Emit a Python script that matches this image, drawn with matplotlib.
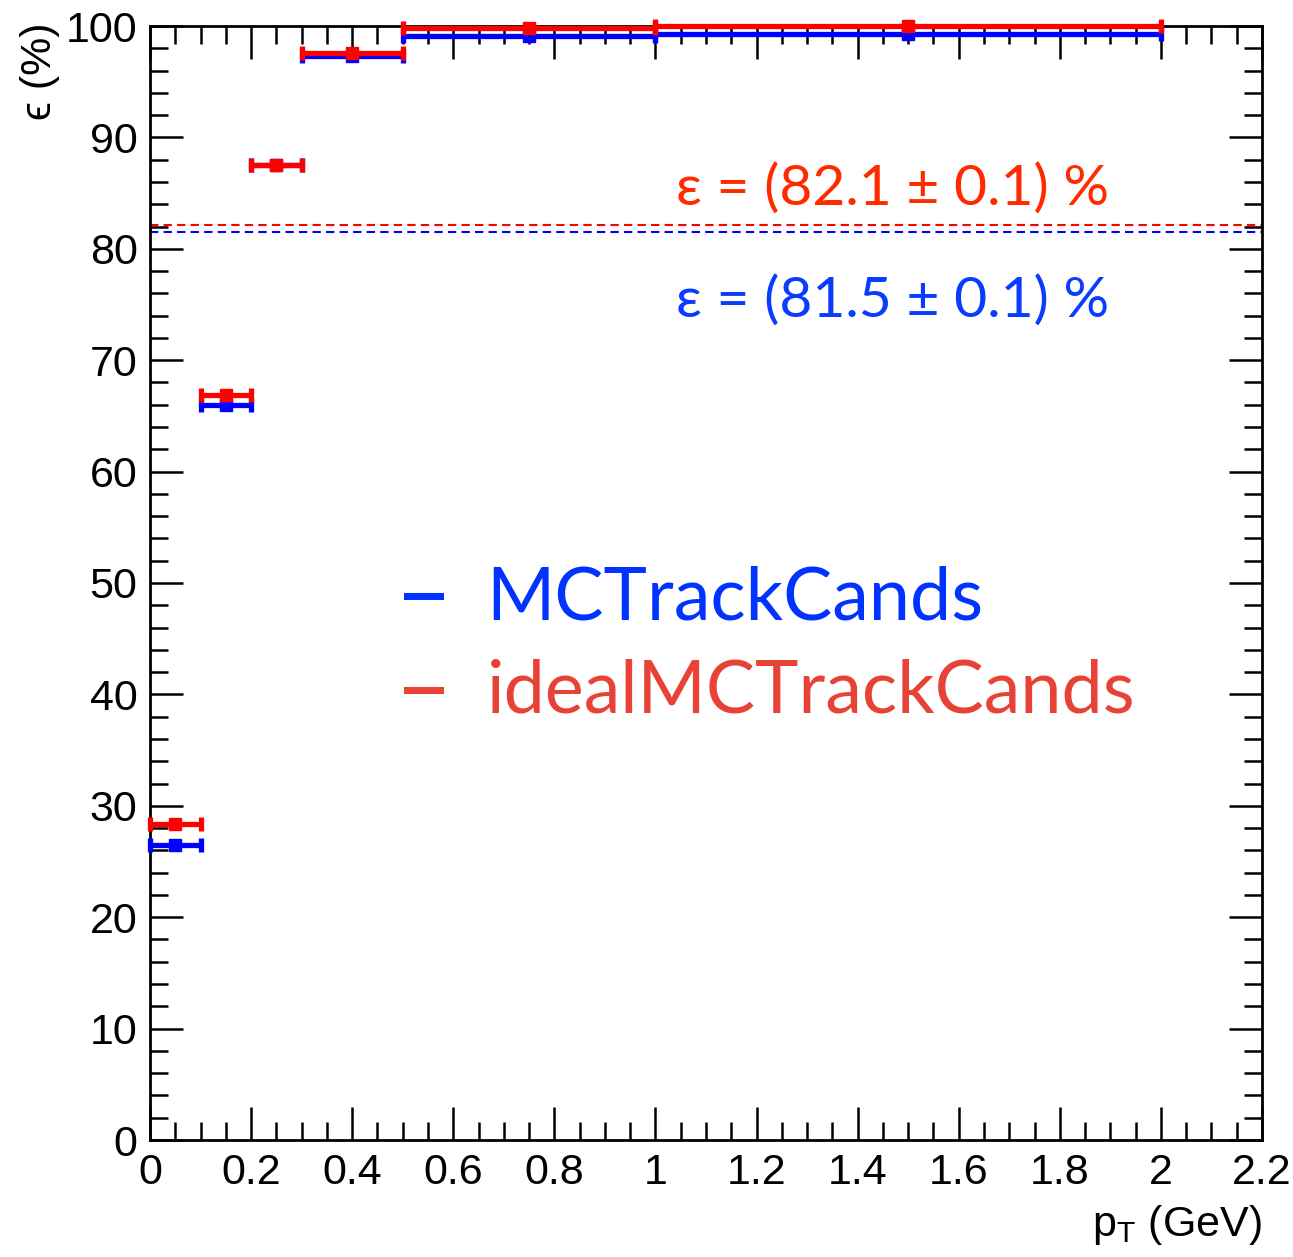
import matplotlib
matplotlib.use("Agg")
import matplotlib.pyplot as plt
from matplotlib.ticker import MultipleLocator
import numpy as np

# pT binning (GeV) and per-bin efficiencies (%)
bin_edges = [0.0, 0.1, 0.2, 0.3, 0.5, 1.0, 2.0]
eff_mc = [26.5, 66.0, 87.5, 97.3, 99.1, 99.3]
eff_ideal = [28.4, 66.9, 87.5, 97.6, 99.8, 100.0]

# integrated efficiencies (%)
mean_mc = 81.5
mean_ideal = 82.1
mean_err = 0.1

series_names = ["MCTrackCands", "idealMCTrackCands"]

edges = np.array(bin_edges)
centers = 0.5 * (edges[:-1] + edges[1:])
half_w = 0.5 * (edges[1:] - edges[:-1])

BLUE = "#0000ff"
RED = "#ff0000"

W, H = 1293, 1257
fig = plt.figure(figsize=(W / 100, H / 100), dpi=100)
ax = fig.add_axes([150 / W, 1 - 1140 / H, (1262 - 150) / W, (1140 - 26) / H])

ax.set_xlim(0, 2.2)
ax.set_ylim(0, 100)

# integrated efficiency lines
ax.axhline(mean_mc, color=BLUE, lw=1.5, ls=(0, (4, 2.5)), zorder=2)
ax.axhline(mean_ideal, color=RED, lw=1.5, ls=(0, (4, 2.5)), zorder=2)

for eff, col, z in [(eff_mc, BLUE, 3), (eff_ideal, RED, 4)]:
    cont = ax.errorbar(centers, eff, xerr=half_w, fmt="s", color=col,
                       ms=8, mec=col, elinewidth=3.8, capsize=5, capthick=3.8,
                       zorder=z)
    arts = [cont.lines[0]] + list(cont.lines[1]) + list(cont.lines[2])
    for art in arts:
        art.set_clip_on(False)

# axis styling: inward ticks on all four sides
for sp in ax.spines.values():
    sp.set_linewidth(2.0)
ax.xaxis.set_major_locator(MultipleLocator(0.2))
ax.xaxis.set_minor_locator(MultipleLocator(0.05))
ax.yaxis.set_major_locator(MultipleLocator(10))
ax.yaxis.set_minor_locator(MultipleLocator(2))
ax.tick_params(which="both", direction="in", top=True, right=True, width=1.8)
ax.tick_params(which="major", length=24, pad=9)
ax.tick_params(which="minor", length=13)
ax.set_xticks(np.arange(0, 2.21, 0.2))
ax.set_xticklabels(["0", "0.2", "0.4", "0.6", "0.8", "1", "1.2", "1.4",
                    "1.6", "1.8", "2", "2.2"])
for lab in ax.get_xticklabels() + ax.get_yticklabels():
    lab.set_fontfamily("Liberation Sans")
    lab.set_fontsize(31)

fig.text(40 / W, 1 - 22 / H, "ϵ (%)", rotation=90, ha="center", va="top",
         fontsize=31, family=["Liberation Sans", "DejaVu Sans"])
fig.text(1262 / W, 1 - 1225 / H, r"p$_{\mathregular{T}}$ (GeV)", ha="right",
         va="center", fontsize=31, family="Liberation Sans")

# integrated efficiency annotations
ax.text(1.04, 85.35, f"ε = ({mean_ideal:.1f} ± {mean_err:.1f}) %",
        color="#ff2a00", fontsize=41, family="Lato", va="center", ha="left")
ax.text(1.04, 75.35, f"ε = ({mean_mc:.1f} ± {mean_err:.1f}) %",
        color="#0a3cff", fontsize=41, family="Lato", va="center", ha="left")

# legend entries
for name, col, y in [(series_names[0], "#0033ff", 48.6),
                     (series_names[1], "#e84135", 40.2)]:
    ax.text(0.543, y, "–", color=col, fontsize=72, family="Lato",
            va="center", ha="center")
    ax.text(0.666, y, name, color=col, fontsize=53, family="Lato",
            va="center", ha="left")

fig.savefig("out.png", dpi=100)
